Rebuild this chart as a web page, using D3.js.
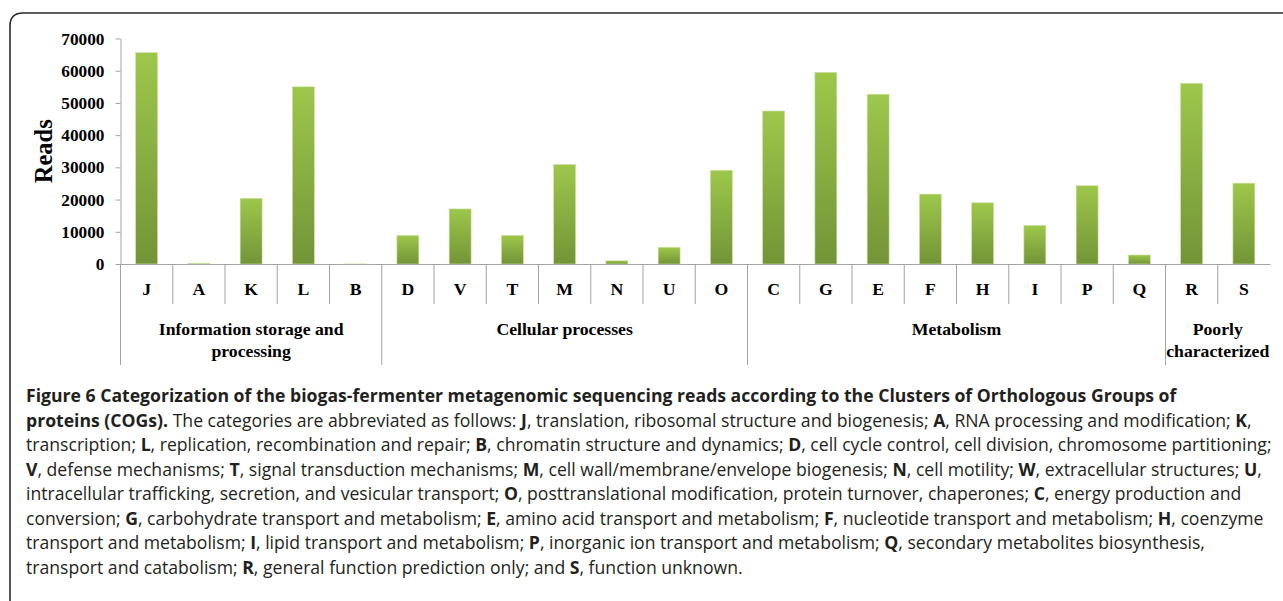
<!DOCTYPE html>
<html>
<head>
<meta charset="utf-8">
<script src="https://cdn.jsdelivr.net/npm/d3@7"></script>
<style>
  html, body { margin: 0; padding: 0; background: #fff; }
  svg { display: block; }
</style>
</head>
<body>
<div id="chart"></div>
<script>
// ── Data ──────────────────────────────────────────────────────────────────────
const categories = ["J", "A", "K", "L", "B", "D", "V", "T", "M", "N", "U", "O",
  "C", "G", "E", "F", "H", "I", "P", "Q", "R", "S"];
const reads = [65600, 250, 20400, 55000, 20, 8900, 17100, 8900, 30900, 1000, 5200, 29100,
  47500, 59500, 52700, 21700, 19000, 12000, 24300, 2800, 56100, 25100];
const yTicks = [0, 10000, 20000, 30000, 40000, 50000, 60000, 70000];
const groupLabels = [
  ["Information storage and", "processing"],
  ["Cellular processes"],
  ["Metabolism"],
  ["Poorly", "characterized"],
];
const groupSizes = [5, 7, 8, 2];
const yTitle = "Reads";

// caption lines, **bold** marks bold runs
const captionLines = [
  "**Figure 6 Categorization of the biogas-fermenter metagenomic sequencing reads according to the Clusters of Orthologous Groups of**",
  "**proteins (COGs).** The categories are abbreviated as follows: **J**, translation, ribosomal structure and biogenesis; **A**, RNA processing and modification; **K**,",
  "transcription; **L**, replication, recombination and repair; **B**, chromatin structure and dynamics; **D**, cell cycle control, cell division, chromosome partitioning;",
  "**V**, defense mechanisms; **T**, signal transduction mechanisms; **M**, cell wall/membrane/envelope biogenesis; **N**, cell motility; **W**, extracellular structures; **U**,",
  "intracellular trafficking, secretion, and vesicular transport; **O**, posttranslational modification, protein turnover, chaperones; **C**, energy production and",
  "conversion; **G**, carbohydrate transport and metabolism; **E**, amino acid transport and metabolism; **F**, nucleotide transport and metabolism; **H**, coenzyme",
  "transport and metabolism; **I**, lipid transport and metabolism; **P**, inorganic ion transport and metabolism; **Q**, secondary metabolites biosynthesis,",
  "transport and catabolism; **R**, general function prediction only; and **S**, function unknown.",
];

// ── Layout ────────────────────────────────────────────────────────────────────
const W = 1283, H = 601;
const plot = { left: 120.5, right: 1270, top: 38.5, bottom: 264 };
const serif = "'Liberation Serif', 'Times New Roman', serif";
const sans = "'Open Sans', 'Noto Sans', sans-serif";
const axisColor = "#a3a3a3";
const labelSize = "17.7px";

const svg = d3.select("#chart").append("svg")
  .attr("width", W).attr("height", H)
  .attr("viewBox", `0 0 ${W} ${H}`);

// frame (cropped rounded box)
svg.append("path")
  .attr("d", `M10,${H} L10,26 Q10,13 23,13 L${W},13`)
  .attr("fill", "none")
  .attr("stroke", "#2b2b2b")
  .attr("stroke-width", 1.6);

// gradient fill for the bars
const grad = svg.append("defs").append("linearGradient")
  .attr("id", "barGrad")
  .attr("x1", 0).attr("y1", 0).attr("x2", 0).attr("y2", 1);
grad.append("stop").attr("offset", "0%").attr("stop-color", "#9dc74b");
grad.append("stop").attr("offset", "100%").attr("stop-color", "#739437");

// ── Scales ────────────────────────────────────────────────────────────────────
const x = d3.scaleBand()
  .domain(categories)
  .range([plot.left, plot.right])
  .paddingInner(0).paddingOuter(0);

const y = d3.scaleLinear()
  .domain([0, 70000])
  .range([plot.bottom, plot.top]);

// ── Y axis
const yAxis = svg.append("g")
  .attr("transform", `translate(${plot.left},0)`)
  .call(d3.axisLeft(y).tickValues(yTicks).tickSize(5).tickPadding(11).tickSizeOuter(0)
    .tickFormat(d3.format("d")));
yAxis.select(".domain").attr("stroke", axisColor);
yAxis.selectAll(".tick line").attr("stroke", axisColor);
yAxis.selectAll(".tick text")
  .attr("fill", "#000")
  .style("font-family", serif)
  .style("font-size", "17.3px")
  .style("font-weight", "bold");

svg.append("text")
  .attr("transform", `translate(51.5,${(plot.top + plot.bottom) / 2}) rotate(-90)`)
  .attr("text-anchor", "middle")
  .style("font-family", serif)
  .style("font-size", "24.5px")
  .style("font-weight", "bold")
  .text(yTitle);

// ── Bars
const barFrac = 0.42;
svg.append("g").selectAll("rect")
  .data(categories.map((c, i) => ({ c, v: reads[i] })))
  .join("rect")
  .attr("x", d => x(d.c) + x.bandwidth() * (1 - barFrac) / 2)
  .attr("width", x.bandwidth() * barFrac)
  .attr("y", d => y(d.v))
  .attr("height", d => y(0) - y(d.v))
  .attr("fill", "url(#barGrad)")
  .attr("stroke", "#cfe2a8")
  .attr("stroke-width", 0.6);

// ── X axis (category row)
const xAxis = svg.append("g")
  .attr("transform", `translate(0,${plot.bottom})`)
  .call(d3.axisBottom(x).tickSize(0).tickPadding(18.5).tickSizeOuter(0));
xAxis.select(".domain").attr("stroke", axisColor);
xAxis.selectAll(".tick text")
  .attr("fill", "#000")
  .style("font-family", serif)
  .style("font-size", labelSize)
  .style("font-weight", "bold");

// separators: short between categories, long at group boundaries
const groupStarts = [];
let acc = 0;
groupSizes.forEach(n => { groupStarts.push(acc); acc += n; });

svg.append("g").selectAll("line")
  .data(d3.range(0, categories.length))
  .join("line")
  .attr("x1", i => x(categories[i]))
  .attr("x2", i => x(categories[i]))
  .attr("y1", plot.bottom)
  .attr("y2", i => groupStarts.includes(i) ? 365 : 304)
  .attr("stroke", axisColor)
  .attr("stroke-width", 1);

// group labels
const groupG = svg.append("g")
  .style("font-family", serif)
  .style("font-size", labelSize)
  .style("font-weight", "bold")
  .attr("text-anchor", "middle");
groupLabels.forEach((lines, gi) => {
  const first = categories[groupStarts[gi]];
  const last = categories[groupStarts[gi] + groupSizes[gi] - 1];
  const cx = (x(first) + x(last) + x.bandwidth()) / 2;
  const t = groupG.append("text").attr("x", cx).attr("y", 335);
  lines.forEach((ln, li) => {
    t.append("tspan").attr("x", cx).attr("dy", li === 0 ? 0 : 22).text(ln);
  });
});

// ── Caption
const capX = 26, capY0 = 402, capStep = 24.5, capMaxWidth = 1246;
const cap = svg.append("g")
  .style("font-family", sans)
  .attr("fill", "#231f20");

function addLine(str, i, size) {
  const t = cap.append("text")
    .attr("x", capX)
    .attr("y", capY0 + i * capStep)
    .style("font-size", size + "px");
  str.split("**").forEach((part, k) => {
    if (!part) return;
    t.append("tspan")
      .style("font-weight", k % 2 ? "bold" : "normal")
      .text(part);
  });
  return t;
}

// one font size for all lines, so that the widest line fits the box
const probes = captionLines.map((ln, i) => addLine(ln, i, 16));
const widest = d3.max(probes, p => p.node().getComputedTextLength());
probes.forEach(p => p.remove());
const capSize = 16 * capMaxWidth / widest;
captionLines.forEach((ln, i) => addLine(ln, i, capSize));
</script>
</body>
</html>
